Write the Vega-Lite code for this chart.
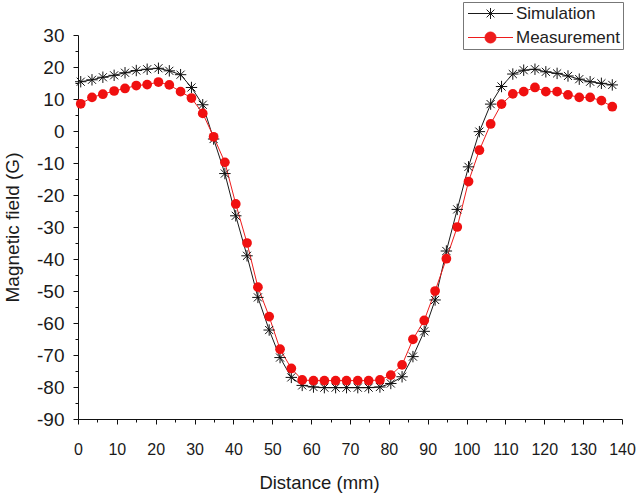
{
  "$schema": "https://vega.github.io/schema/vega-lite/v6.json",
  "width": 544,
  "height": 384,
  "autosize": {"type": "none"},
  "padding": {"left": 78, "top": 35, "right": 17, "bottom": 80},
  "background": "white",
  "config": {
    "view": {"stroke": null},
    "font": "Liberation Sans",
    "axis": {
      "grid": false,
      "domainColor": "#111111",
      "domainWidth": 1,
      "tickColor": "#111111",
      "tickWidth": 1,
      "labelColor": "#1a1a1a",
      "titleColor": "#1a1a1a",
      "labelFont": "Liberation Sans",
      "titleFont": "Liberation Sans",
      "titleFontWeight": "normal"
    }
  },
  "data": {
    "values": [
      {"distance": 0.7, "series": "Simulation", "field": 15.4},
      {"distance": 3.6, "series": "Simulation", "field": 16.0},
      {"distance": 6.4, "series": "Simulation", "field": 16.8},
      {"distance": 9.3, "series": "Simulation", "field": 17.4},
      {"distance": 12.1, "series": "Simulation", "field": 18.2},
      {"distance": 15.0, "series": "Simulation", "field": 18.9},
      {"distance": 17.8, "series": "Simulation", "field": 19.3},
      {"distance": 20.7, "series": "Simulation", "field": 19.6},
      {"distance": 23.5, "series": "Simulation", "field": 18.8},
      {"distance": 26.4, "series": "Simulation", "field": 17.6},
      {"distance": 29.2, "series": "Simulation", "field": 13.6},
      {"distance": 32.1, "series": "Simulation", "field": 8.2},
      {"distance": 34.9, "series": "Simulation", "field": -2.5},
      {"distance": 37.8, "series": "Simulation", "field": -13.3},
      {"distance": 40.6, "series": "Simulation", "field": -26.5},
      {"distance": 43.5, "series": "Simulation", "field": -39.0},
      {"distance": 46.3, "series": "Simulation", "field": -52.0},
      {"distance": 49.2, "series": "Simulation", "field": -62.2},
      {"distance": 52.0, "series": "Simulation", "field": -70.8},
      {"distance": 54.9, "series": "Simulation", "field": -77.0},
      {"distance": 57.7, "series": "Simulation", "field": -79.5},
      {"distance": 60.6, "series": "Simulation", "field": -80.0},
      {"distance": 63.4, "series": "Simulation", "field": -80.2},
      {"distance": 66.3, "series": "Simulation", "field": -80.2},
      {"distance": 69.1, "series": "Simulation", "field": -80.2},
      {"distance": 72.0, "series": "Simulation", "field": -80.2},
      {"distance": 74.8, "series": "Simulation", "field": -80.2},
      {"distance": 77.7, "series": "Simulation", "field": -80.0},
      {"distance": 80.5, "series": "Simulation", "field": -78.9},
      {"distance": 83.4, "series": "Simulation", "field": -76.8},
      {"distance": 86.2, "series": "Simulation", "field": -70.5},
      {"distance": 89.1, "series": "Simulation", "field": -62.6},
      {"distance": 91.9, "series": "Simulation", "field": -52.8},
      {"distance": 94.8, "series": "Simulation", "field": -37.5},
      {"distance": 97.6, "series": "Simulation", "field": -24.5},
      {"distance": 100.5, "series": "Simulation", "field": -11.2},
      {"distance": 103.3, "series": "Simulation", "field": -0.2},
      {"distance": 106.2, "series": "Simulation", "field": 8.4},
      {"distance": 109.0, "series": "Simulation", "field": 13.9},
      {"distance": 111.9, "series": "Simulation", "field": 17.8},
      {"distance": 114.7, "series": "Simulation", "field": 19.0},
      {"distance": 117.6, "series": "Simulation", "field": 19.3},
      {"distance": 120.4, "series": "Simulation", "field": 18.5},
      {"distance": 123.3, "series": "Simulation", "field": 18.0},
      {"distance": 126.1, "series": "Simulation", "field": 17.2},
      {"distance": 129.0, "series": "Simulation", "field": 16.2},
      {"distance": 131.8, "series": "Simulation", "field": 15.4},
      {"distance": 134.7, "series": "Simulation", "field": 14.9},
      {"distance": 137.5, "series": "Simulation", "field": 14.4},
      {"distance": 0.7, "series": "Measurement", "field": 8.5},
      {"distance": 3.6, "series": "Measurement", "field": 10.5},
      {"distance": 6.4, "series": "Measurement", "field": 11.5},
      {"distance": 9.3, "series": "Measurement", "field": 12.5},
      {"distance": 12.1, "series": "Measurement", "field": 13.3},
      {"distance": 15.0, "series": "Measurement", "field": 14.2},
      {"distance": 17.8, "series": "Measurement", "field": 14.5},
      {"distance": 20.7, "series": "Measurement", "field": 15.3},
      {"distance": 23.5, "series": "Measurement", "field": 14.4},
      {"distance": 26.4, "series": "Measurement", "field": 12.3},
      {"distance": 29.2, "series": "Measurement", "field": 10.3},
      {"distance": 32.1, "series": "Measurement", "field": 5.5},
      {"distance": 34.9, "series": "Measurement", "field": -1.8},
      {"distance": 37.8, "series": "Measurement", "field": -9.8},
      {"distance": 40.6, "series": "Measurement", "field": -22.8},
      {"distance": 43.5, "series": "Measurement", "field": -35.0},
      {"distance": 46.3, "series": "Measurement", "field": -48.8},
      {"distance": 49.2, "series": "Measurement", "field": -58.0},
      {"distance": 52.0, "series": "Measurement", "field": -68.2},
      {"distance": 54.9, "series": "Measurement", "field": -74.2},
      {"distance": 57.7, "series": "Measurement", "field": -77.8},
      {"distance": 60.6, "series": "Measurement", "field": -78.0},
      {"distance": 63.4, "series": "Measurement", "field": -78.0},
      {"distance": 66.3, "series": "Measurement", "field": -78.0},
      {"distance": 69.1, "series": "Measurement", "field": -78.0},
      {"distance": 72.0, "series": "Measurement", "field": -78.0},
      {"distance": 74.8, "series": "Measurement", "field": -78.0},
      {"distance": 77.7, "series": "Measurement", "field": -77.8},
      {"distance": 80.5, "series": "Measurement", "field": -76.3},
      {"distance": 83.4, "series": "Measurement", "field": -73.1},
      {"distance": 86.2, "series": "Measurement", "field": -65.1},
      {"distance": 89.1, "series": "Measurement", "field": -59.2},
      {"distance": 91.9, "series": "Measurement", "field": -50.0},
      {"distance": 94.8, "series": "Measurement", "field": -39.9},
      {"distance": 97.6, "series": "Measurement", "field": -30.0},
      {"distance": 100.5, "series": "Measurement", "field": -15.8},
      {"distance": 103.3, "series": "Measurement", "field": -6.0},
      {"distance": 106.2, "series": "Measurement", "field": 2.2},
      {"distance": 109.0, "series": "Measurement", "field": 8.4},
      {"distance": 111.9, "series": "Measurement", "field": 11.6},
      {"distance": 114.7, "series": "Measurement", "field": 12.3},
      {"distance": 117.6, "series": "Measurement", "field": 13.6},
      {"distance": 120.4, "series": "Measurement", "field": 12.3},
      {"distance": 123.3, "series": "Measurement", "field": 12.3},
      {"distance": 126.1, "series": "Measurement", "field": 11.3},
      {"distance": 129.0, "series": "Measurement", "field": 10.5},
      {"distance": 131.8, "series": "Measurement", "field": 10.5},
      {"distance": 134.7, "series": "Measurement", "field": 9.5},
      {"distance": 137.5, "series": "Measurement", "field": 7.6}
    ]
  },
  "resolve": {"axis": {"x": "independent", "y": "independent"}},
  "layer": [
    {
      "mark": {"type": "line", "strokeWidth": 1},
      "encoding": {
        "x": {
          "field": "distance", "type": "quantitative",
          "scale": {"domain": [0, 140], "nice": false, "zero": false},
          "axis": {
            "orient": "bottom",
            "values": [0, 10, 20, 30, 40, 50, 60, 70, 80, 90, 100, 110, 120, 130, 140],
            "labelExpr": "toString(datum.value)",
            "tickSize": 5,
            "labelFontSize": 16,
            "labelPadding": 17,
            "labelOverlap": false,
            "labelFlush": false,
            "title": "Distance (mm)",
            "titleFontSize": 18.5,
            "titleX": 241,
            "titleY": 63,
            "titleAlign": "center",
            "titleBaseline": "middle"
          }
        },
        "y": {
          "field": "field", "type": "quantitative",
          "scale": {"domain": [-90, 30], "nice": false, "zero": false},
          "axis": {
            "orient": "left",
            "values": [-90, -80, -70, -60, -50, -40, -30, -20, -10, 0, 10, 20, 30],
            "labelExpr": "toString(datum.value)",
            "tickSize": 5,
            "labelFontSize": 19,
            "labelPadding": 9,
            "labelOverlap": false,
            "title": "Magnetic field (G)",
            "titleFontSize": 19,
            "titleX": -66,
            "titleY": 192,
            "titleAlign": "center",
            "titleBaseline": "middle"
          }
        },
        "color": {
          "field": "series", "type": "nominal",
          "scale": {"domain": ["Simulation", "Measurement"], "range": ["#1a1a1a", "#ee1c1c"]},
          "legend": {
            "title": null,
            "orient": "none",
            "legendX": 385,
            "legendY": -33,
            "padding": 3,
            "strokeColor": "#777777",
            "fillColor": "white",
            "labelFont": "Liberation Sans",
            "labelFontSize": 17,
            "labelColor": "#222222",
            "symbolSize": 100,
            "symbolStrokeWidth": 1,
            "symbolOffset": 16,
            "labelOffset": 17,
            "rowPadding": 6,
            "encode": {
              "symbols": {
                "update": {
                  "shape": {"signal": "datum.value === 'Simulation' ? 'M-4.5,0L4.5,0M0,-1.1L0,1.1M-0.78,-0.78L0.78,0.78M-0.78,0.78L0.78,-0.78' : 'M-4.5,0L4.5,0M-1.1,0A1.1,1.1,0,1,1,1.1,0A1.1,1.1,0,1,1,-1.1,0Z'"},
                  "fill": {"signal": "datum.value === 'Simulation' ? 'transparent' : '#ee1c1c'"}
                }
              }
            }
          }
        }
      }
    },
    {
      "transform": [{"filter": "datum.series === 'Simulation'"}],
      "mark": {
        "type": "point",
        "shape": "M-1,0L1,0M0,-1L0,1M-0.71,-0.71L0.71,0.71M-0.71,0.71L0.71,-0.71",
        "size": 130,
        "filled": false,
        "stroke": "#111111",
        "strokeWidth": 1,
        "opacity": 1
      },
      "encoding": {
        "x": {
          "field": "distance", "type": "quantitative",
          "axis": {
            "orient": "bottom",
            "values": [5, 15, 25, 35, 45, 55, 65, 75, 85, 95, 105, 115, 125, 135],
            "tickSize": 3,
            "labels": false,
            "domain": false,
            "title": null
          }
        },
        "y": {
          "field": "field", "type": "quantitative",
          "axis": {
            "orient": "left",
            "values": [-85, -75, -65, -55, -45, -35, -25, -15, -5, 5, 15, 25],
            "tickSize": 3,
            "labels": false,
            "domain": false,
            "title": null
          }
        }
      }
    },
    {
      "transform": [{"filter": "datum.series === 'Measurement'"}],
      "mark": {
        "type": "point",
        "shape": "circle",
        "size": 95,
        "filled": true,
        "fill": "#f01010",
        "strokeWidth": 0,
        "opacity": 1
      },
      "encoding": {
        "x": {"field": "distance", "type": "quantitative", "axis": null},
        "y": {"field": "field", "type": "quantitative", "axis": null}
      }
    }
  ]
}
